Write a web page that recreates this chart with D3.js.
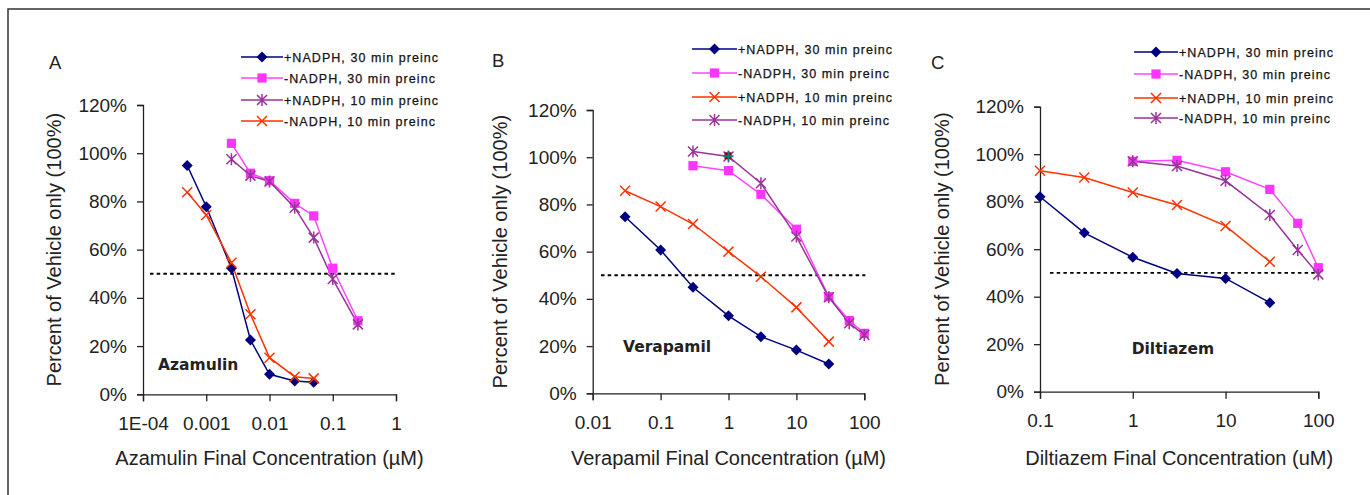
<!DOCTYPE html>
<html>
<head>
<meta charset="utf-8">
<script src="https://cdn.jsdelivr.net/npm/d3@7"></script>
<style>
  body { margin: 0; background: #fff; }
  svg { display: block; }
  text { font-family: "Liberation Sans", Arial, sans-serif; fill: #222; }
  .tick line, .domain { stroke: #222; stroke-width: 1.3; }
</style>
</head>
<body>
<div id="chart"></div>
<script>
// legend labels (in legend order)
const legendLabels = ['+NADPH, 30 min preinc', '-NADPH, 30 min preinc', '+NADPH, 10 min preinc', '-NADPH, 10 min preinc'];
const yTicks = [0, 20, 40, 60, 80, 100, 120];

// Azamulin
const azaXTicks = [1e-4, 1e-3, 1e-2, 0.1, 1];
const azaXTickLabels = ['1E-04', '0.001', '0.01', '0.1', '1'];
const azaConcLow = [0.0005, 0.001, 0.0025, 0.005, 0.01, 0.025, 0.05];
const azaPlus30 = [94.9, 77.8, 52.3, 22.5, 8.3, 5.5, 5.0];
const azaMinus10 = [83.8, 74.4, 54.6, 33.2, 15.2, 7.3, 6.6];
const azaConcHigh = [0.0025, 0.005, 0.01, 0.025, 0.05, 0.1, 0.25];
const azaMinus30 = [104.1, 91.7, 88.6, 79.2, 74.0, 52.3, 30.5];
const azaPlus10 = [97.5, 90.7, 88.3, 77.4, 65.0, 47.8, 29.0];

// Verapamil
const veraXTicks = [0.01, 0.1, 1, 10, 100];
const veraXTickLabels = ['0.01', '0.1', '1', '10', '100'];
const veraConcLow = [0.03, 0.1, 0.3, 1, 3, 10, 30];
const veraPlus30 = [74.8, 60.7, 44.9, 32.8, 24.0, 18.3, 12.4];
const veraPlus10 = [85.8, 79.1, 71.7, 60.0, 49.4, 36.4, 21.9];
const veraConcHigh = [0.3, 1, 3, 10, 30, 60, 100];
const veraMinus30 = [96.4, 94.3, 84.3, 69.5, 40.9, 30.8, 25.4];
const veraMinus10 = [102.4, 100.3, 89.0, 66.4, 40.7, 29.7, 24.7];
const veraStrayConc = [1];
const veraStrayVal = [100.4];

// Diltiazem
const diltXTicks = [0.1, 1, 10, 100];
const diltXTickLabels = ['0.1', '1', '10', '100'];
const diltConcLow = [0.1, 0.3, 1, 3, 10, 30];
const diltPlus30 = [82.1, 66.9, 56.6, 49.8, 47.7, 37.5];
const diltPlus10 = [93.0, 90.2, 83.9, 78.6, 69.8, 54.7];
const diltConcHigh = [1, 3, 10, 30, 60, 100];
const diltMinus30 = [97.0, 97.4, 92.6, 85.2, 70.9, 52.2];
const diltMinus10 = [97.0, 95.0, 88.8, 74.4, 59.7, 49.4];

const styles = {
    diamond: { color: '#000080', line: '#000080' },
    square: { color: '#FF33FF', line: '#FF44FF' },
    cross: { color: '#FF3300', line: '#FF3300' },
    asterisk: { color: '#993399', line: '#993399' }
};

function zip(xs, ys) { return xs.map((x, i) => ({ x, y: ys[i] })); }

const panels = [
    {
        letter: 'A', drug: 'Azamulin', xTitle: 'Azamulin Final Concentration (\u00B5M)',
        domain: [1e-4, 1], ticks: azaXTicks, tickLabels: azaXTickLabels,
        left: 143, right: 396, top: 105, bottom: 394.3,
        letterPos: [49, 62], drugPos: [158, 364], yTitleX: 54, dashFrom: 150,
        legend: { x: 241, len: 42, rows: [57, 78, 100, 121] },
        series: [
            { mk: 'diamond', pts: zip(azaConcLow, azaPlus30) },
            { mk: 'square', pts: zip(azaConcHigh, azaMinus30) },
            { mk: 'asterisk', pts: zip(azaConcHigh, azaPlus10) },
            { mk: 'cross', pts: zip(azaConcLow, azaMinus10) }
        ]
    },
    {
        letter: 'B', drug: 'Verapamil', xTitle: 'Verapamil Final Concentration (\u00B5M)',
        domain: [0.01, 100], ticks: veraXTicks, tickLabels: veraXTickLabels,
        left: 592.7, right: 864.3, top: 110, bottom: 393.3,
        letterPos: [492, 60], drugPos: [623, 346.7], yTitleX: 500, dashFrom: 601,
        legend: { x: 692, len: 45, rows: [49, 73, 97, 120] },
        series: [
            { mk: 'diamond', pts: zip(veraConcLow, veraPlus30) },
            { mk: 'square', pts: zip(veraConcHigh, veraMinus30) },
            { mk: 'cross', pts: zip(veraConcLow, veraPlus10) },
            { mk: 'asterisk', pts: zip(veraConcHigh, veraMinus10) }
        ],
        stray: zip(veraStrayConc, veraStrayVal)
    },
    {
        letter: 'C', drug: 'Diltiazem', xTitle: 'Diltiazem Final Concentration (uM)',
        domain: [0.1, 100], ticks: diltXTicks, tickLabels: diltXTickLabels,
        left: 1040, right: 1318.3, top: 106.7, bottom: 391.7,
        letterPos: [931, 62], drugPos: [1131.7, 348.3], yTitleX: 941.7, dashFrom: 1050,
        legend: { x: 1134, len: 44, rows: [52, 74, 98, 118] },
        series: [
            { mk: 'diamond', pts: zip(diltConcLow, diltPlus30) },
            { mk: 'square', pts: zip(diltConcHigh, diltMinus30) },
            { mk: 'cross', pts: zip(diltConcLow, diltPlus10) },
            { mk: 'asterisk', pts: zip(diltConcHigh, diltMinus10) }
        ]
    }
];

function drawMarker(g, kind, cx, cy) {
    const s = styles[kind];
    if (kind === 'diamond') {
        const r = 5.5;
        g.append('path').attr('d', `M${cx},${cy - r}L${cx + r},${cy}L${cx},${cy + r}L${cx - r},${cy}Z`).attr('fill', s.color);
    } else if (kind === 'square') {
        const r = 4.6;
        g.append('rect').attr('x', cx - r).attr('y', cy - r).attr('width', 2 * r).attr('height', 2 * r).attr('fill', s.color);
    } else if (kind === 'cross') {
        const r = 5;
        g.append('path').attr('d', `M${cx - r},${cy - r}L${cx + r},${cy + r}M${cx - r},${cy + r}L${cx + r},${cy - r}`)
            .attr('stroke', s.color).attr('stroke-width', 1.5).attr('fill', 'none');
    } else if (kind === 'asterisk') {
        const r = 5;
        g.append('path').attr('d', `M${cx - r},${cy - r}L${cx + r},${cy + r}M${cx - r},${cy + r}L${cx + r},${cy - r}M${cx},${cy - r - 1}L${cx},${cy + r + 1}`)
            .attr('stroke', s.color).attr('stroke-width', 1.5).attr('fill', 'none');
    }
}

const svg = d3.select('#chart').append('svg').attr('width', 1370).attr('height', 495);

// outer frame (right and bottom fall outside the picture)
svg.append('rect').attr('x', 8).attr('y', 9).attr('width', 1400).attr('height', 520)
    .attr('fill', 'none').attr('stroke', '#333').attr('stroke-width', 1.5);

panels.forEach(p => {
    const x = d3.scaleLog().domain(p.domain).range([p.left, p.right]);
    const y = d3.scaleLinear().domain([0, 120]).range([p.bottom, p.top]);
    const g = svg.append('g');

    // axes
    const xAxis = g.append('g').attr('transform', `translate(0,${p.bottom})`)
        .call(d3.axisBottom(x).tickValues(p.ticks).tickFormat((d, i) => p.tickLabels[i]).tickSizeOuter(0).tickSize(7).tickPadding(15));
    xAxis.selectAll('text').attr('font-size', 19).style('font-family', '"Liberation Sans", Arial, sans-serif').attr('fill', '#222');

    const yAxis = g.append('g').attr('transform', `translate(${p.left},0)`)
        .call(d3.axisLeft(y).tickValues(yTicks).tickFormat(d => d + '%').tickSizeOuter(0).tickSize(6).tickPadding(10));
    yAxis.selectAll('text').attr('font-size', 19).style('font-family', '"Liberation Sans", Arial, sans-serif').attr('fill', '#222');
    g.selectAll('.domain').attr('stroke', '#222');

    // 50% reference
    g.append('line').attr('x1', p.dashFrom).attr('x2', p.right + 1).attr('y1', y(50)).attr('y2', y(50))
        .attr('stroke', '#000').attr('stroke-width', 1.8).attr('stroke-dasharray', '3.5,3.2');

    // series
    const line = d3.line().x(d => x(d.x)).y(d => y(d.y));
    p.series.forEach(s => {
        g.append('path').datum(s.pts).attr('d', line).attr('fill', 'none')
            .attr('stroke', styles[s.mk].line).attr('stroke-width', 1.5);
    });
    p.series.forEach(s => {
        s.pts.forEach(d => drawMarker(g, s.mk, x(d.x), y(d.y)));
    });

    if (p.stray) {
        p.stray.forEach(d => {
            const cx = x(d.x), cy = y(d.y);
            g.append('rect').attr('x', cx - 4).attr('y', cy - 4).attr('width', 7).attr('height', 7).attr('fill', '#990000');
            g.append('path').attr('d', `M${cx - 5},${cy}L${cx + 5},${cy}M${cx},${cy - 5}L${cx},${cy + 5}`)
                .attr('stroke', '#008080').attr('stroke-width', 1.8);
        });
    }

    // legend
    p.series.forEach((s, i) => {
        const ly = p.legend.rows[i];
        g.append('line').attr('x1', p.legend.x).attr('x2', p.legend.x + p.legend.len).attr('y1', ly).attr('y2', ly)
            .attr('stroke', styles[s.mk].line).attr('stroke-width', 1.5);
        drawMarker(g, s.mk, p.legend.x + p.legend.len / 2, ly);
        g.append('text').attr('x', p.legend.x + p.legend.len + 1).attr('y', ly).attr('dy', '0.36em')
            .attr('font-size', 12.5).attr('letter-spacing', 1.05).attr('fill', '#000')
            .attr('stroke', '#000').attr('stroke-width', 0.25).text(legendLabels[i]);
    });

    // labels
    g.append('text').attr('x', p.letterPos[0]).attr('y', p.letterPos[1]).attr('dy', '0.36em')
        .attr('font-size', 18.5).attr('fill', '#555').text(p.letter);
    g.append('text').attr('x', p.drugPos[0]).attr('y', p.drugPos[1]).attr('dy', '0.36em')
        .style('font-family', '"DejaVu Sans", Verdana, sans-serif').attr('font-weight', 'bold')
        .attr('font-size', 15.5).attr('fill', '#000').text(p.drug);
    g.append('text').attr('x', (p.left + p.right) / 2).attr('y', 458).attr('dy', '0.36em')
        .attr('text-anchor', 'middle').attr('font-size', 20).text(p.xTitle);
    g.append('text').attr('transform', `translate(${p.yTitleX},${(p.top + p.bottom) / 2}) rotate(-90)`)
        .attr('dy', '0.36em').attr('text-anchor', 'middle').attr('font-size', 20).text('Percent of Vehicle only (100%)');
});
</script>
</body>
</html>
